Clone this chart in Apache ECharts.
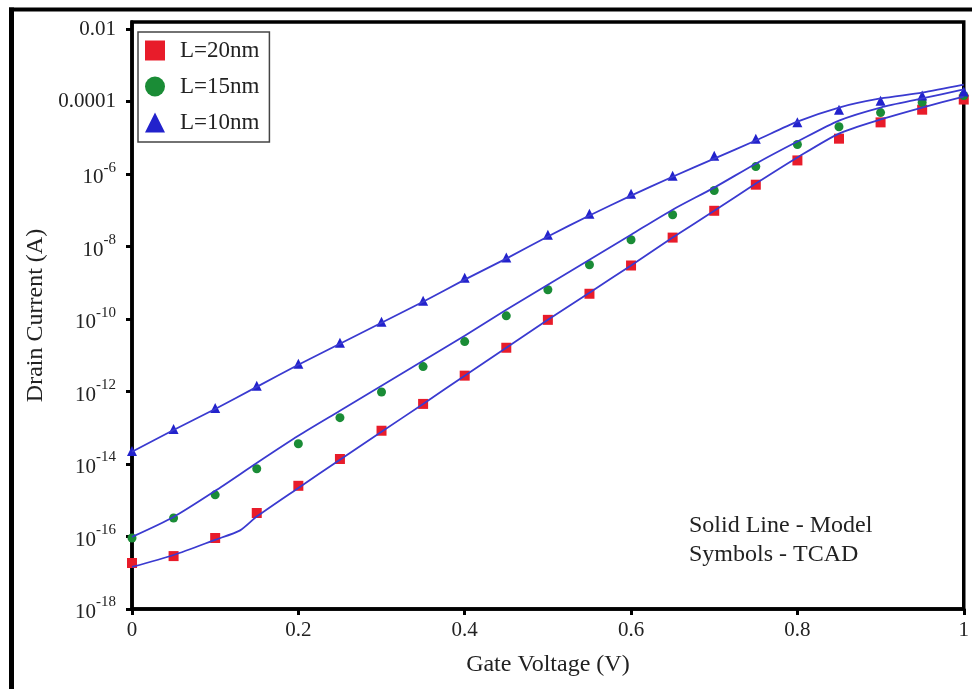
<!DOCTYPE html>
<html>
<head>
<meta charset="utf-8">
<script src="https://cdn.jsdelivr.net/npm/echarts@6/dist/echarts.min.js"></script>
<style>
  html, body { margin: 0; padding: 0; background: #fff; }
  #chart { width: 972px; height: 689px; }
</style>
</head>
<body>
<div id="chart"></div>
<script>
// Gate voltage sweep (V) of the TCAD simulation points
const gateVoltage = [0, 0.05, 0.1, 0.15, 0.2, 0.25, 0.3, 0.35, 0.4, 0.45, 0.5,
                     0.55, 0.6, 0.65, 0.7, 0.75, 0.8, 0.85, 0.9, 0.95, 1];

// TCAD drain current, stored as log10(I / A)
const tcadL20 = [-16.73, -16.54, -16.04, -15.35, -14.60, -13.86, -13.08, -12.34, -11.56, -10.79, -10.02,
                 -9.30, -8.52, -7.75, -7.01, -6.29, -5.62, -5.02, -4.57, -4.22, -3.94];
const tcadL15 = [-16.04, -15.49, -14.85, -14.13, -13.44, -12.72, -12.01, -11.31, -10.62, -9.91, -9.19,
                 -8.50, -7.81, -7.12, -6.45, -5.79, -5.18, -4.69, -4.30, -4.02, -3.83];
const tcadL10 = [-13.64, -13.03, -12.45, -11.84, -11.23, -10.65, -10.07, -9.49, -8.86, -8.30, -7.67,
                 -7.09, -6.54, -6.04, -5.49, -5.02, -4.57, -4.22, -3.97, -3.83, -3.72];

// Analytical model curves, log10(I / A)
const modelV = gateVoltage;
const modelVL20 = [0, 0.05, 0.1, 0.13, 0.15, 0.2, 0.25, 0.3, 0.35, 0.4, 0.45, 0.5,
                   0.55, 0.6, 0.65, 0.7, 0.75, 0.8, 0.85, 0.9, 0.95, 1];
const modelL20 = [-16.84, -16.51, -16.09, -15.83, -15.45, -14.66, -13.88, -13.11, -12.34, -11.56, -10.79, -10.02,
                  -9.27, -8.52, -7.75, -7.01, -6.26, -5.54, -4.88, -4.49, -4.16, -3.86];
const modelL15 = [-16.01, -15.46, -14.74, -13.97, -13.22, -12.53, -11.84, -11.15, -10.46, -9.74, -9.05,
                  -8.36, -7.67, -6.98, -6.37, -5.71, -5.10, -4.52, -4.16, -3.91, -3.66];
const modelL10 = [-13.66, -13.06, -12.48, -11.87, -11.26, -10.68, -10.10, -9.52, -8.91, -8.33, -7.72,
                  -7.14, -6.59, -6.07, -5.57, -5.07, -4.55, -4.16, -3.91, -3.75, -3.53];

// Axis ticks
const yTicks = [-18, -16, -14, -12, -10, -8, -6, -4, -2];
const xTicks = [0, 0.2, 0.4, 0.6, 0.8, 1];

const seriesNames = ['L=20nm', 'L=15nm', 'L=10nm'];

const FONT = '"Liberation Serif", "Times New Roman", serif';
const TEXT = '#222';

function pairs(xs, ys) { return xs.map((x, i) => [x, ys[i]]); }

// decade label: plain decimals for the top two, 10^n otherwise
function decadeLabel(v) {
  if (v === -2) return '0.01';
  if (v === -4) return '0.0001';
  return '{b|10}{s|' + v + '}';
}

const chart = echarts.init(document.getElementById('chart'), null, { renderer: 'canvas' });

const modelLine = (name, data) => ({
  name: name,
  type: 'line',
  data: data,
  showSymbol: false,
  smooth: 0.25,
  z: 4,
  lineStyle: { color: '#3a3ad0', width: 1.8 },
  emphasis: { disabled: true }
});

chart.setOption({
  animation: false,
  backgroundColor: '#fff',
  grid: {
    left: 132, right: 8, top: 22, bottom: 80,
    show: true, borderColor: '#000', borderWidth: 3.5, backgroundColor: '#fff'
  },
  legend: {
    data: [
      { name: seriesNames[0], icon: 'rect' },
      { name: seriesNames[1], icon: 'circle' },
      { name: seriesNames[2], icon: 'triangle' }
    ],
    orient: 'vertical',
    left: 138, top: 32,
    itemWidth: 20, itemHeight: 20, itemGap: 13,
    padding: [7, 10, 8, 7],
    borderColor: '#444', borderWidth: 1.5,
    backgroundColor: '#fff',
    textStyle: { fontFamily: FONT, fontSize: 23, color: TEXT, padding: [0, 0, 0, 10] },
    z: 10
  },
  xAxis: {
    type: 'value',
    min: 0, max: 1, interval: 0.2,
    name: 'Gate Voltage (V)',
    nameLocation: 'middle', nameGap: 44,
    nameTextStyle: { fontFamily: FONT, fontSize: 24, color: TEXT },
    axisLine: { lineStyle: { color: '#000', width: 3.5 } },
    axisTick: { show: true, length: 6, lineStyle: { color: '#000', width: 3 }, customValues: xTicks },
    axisLabel: { fontFamily: FONT, fontSize: 21, color: TEXT, margin: 11, customValues: xTicks },
    splitLine: { show: false }
  },
  yAxis: {
    type: 'value',
    min: -18, max: -1.8, interval: 2,
    name: 'Drain Current (A)',
    nameLocation: 'middle', nameGap: 84,
    nameTextStyle: { fontFamily: FONT, fontSize: 24, color: TEXT },
    axisLine: { lineStyle: { color: '#000', width: 3.5 } },
    axisTick: { show: true, length: 6, lineStyle: { color: '#000', width: 3 }, customValues: yTicks },
    axisLabel: {
      fontFamily: FONT, fontSize: 21, color: TEXT, margin: 16,
      customValues: yTicks,
      formatter: decadeLabel,
      rich: {
        b: { fontFamily: FONT, fontSize: 21, color: TEXT, lineHeight: 28, verticalAlign: 'bottom' },
        s: { fontFamily: FONT, fontSize: 15, color: TEXT, lineHeight: 15, verticalAlign: 'top' }
      }
    },
    splitLine: { show: false }
  },
  series: [
    {
      name: seriesNames[0], type: 'scatter', symbol: 'rect', symbolSize: 10, z: 3,
      itemStyle: { color: '#e81c2a', opacity: 1 },
      data: pairs(gateVoltage, tcadL20)
    },
    {
      name: seriesNames[1], type: 'scatter', symbol: 'circle', symbolSize: 9, z: 3,
      itemStyle: { color: '#1a8c36', opacity: 1 },
      data: pairs(gateVoltage, tcadL15)
    },
    {
      name: seriesNames[2], type: 'scatter', symbol: 'triangle', symbolSize: [10, 10], z: 3,
      itemStyle: { color: '#2222cc', opacity: 1 },
      data: pairs(gateVoltage, tcadL10)
    },
    modelLine('Model L=20nm', pairs(modelVL20, modelL20)),
    modelLine('Model L=15nm', pairs(modelV, modelL15)),
    modelLine('Model L=10nm', pairs(modelV, modelL10))
  ],
  graphic: [
    {
      type: 'text', left: 689, top: 511, z: 20,
      style: {
        text: 'Solid Line - Model\nSymbols - TCAD',
        font: '24px ' + FONT, lineHeight: 29, fill: TEXT
      }
    },
    // outer frame around the figure
    { type: 'line', z: 20, shape: { x1: 9, y1: 9.5, x2: 972, y2: 9.5 }, style: { stroke: '#000', lineWidth: 4 } },
    { type: 'line', z: 20, shape: { x1: 11.5, y1: 7.5, x2: 11.5, y2: 689 }, style: { stroke: '#000', lineWidth: 5 } }
  ]
});
</script>
</body>
</html>
